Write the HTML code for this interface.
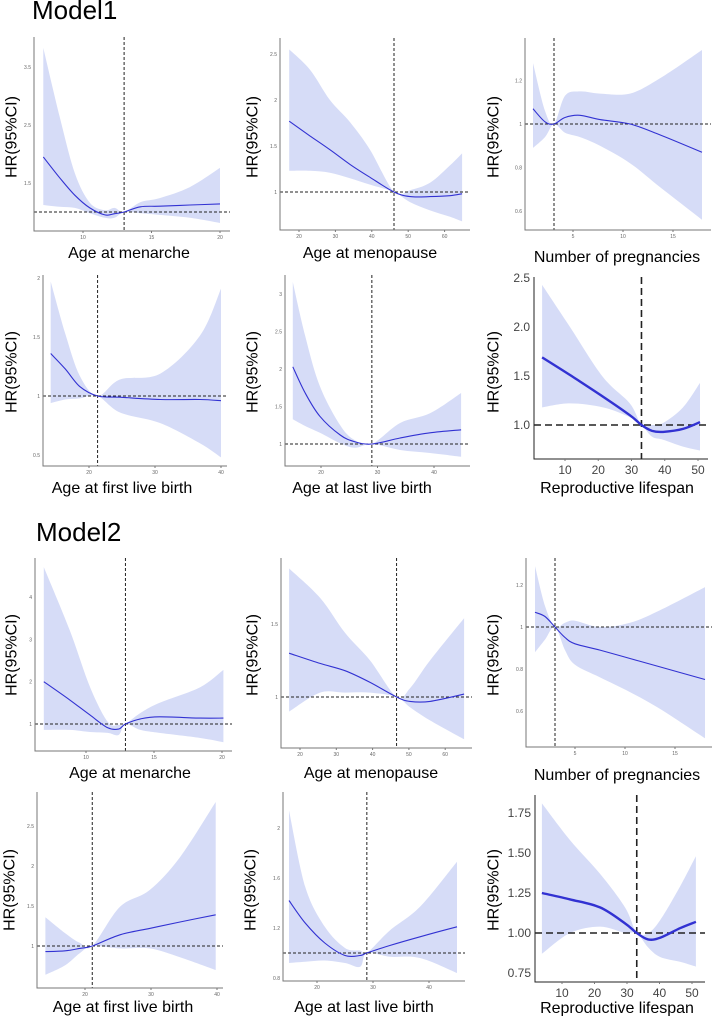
<!DOCTYPE html>
<html><head><meta charset="utf-8">
<style>
html,body{margin:0;padding:0;background:#fff;}
body{width:712px;height:1016px;overflow:hidden;position:relative;font-family:"Liberation Sans",sans-serif;}
svg{position:absolute;left:0;top:0;}
</style></head>
<body>
<svg id="fig" width="712" height="1016" viewBox="0 0 712 1016" xmlns="http://www.w3.org/2000/svg">
<text x="32" y="19" font-size="26" font-family="Liberation Sans, sans-serif" fill="#000">Model1</text>
<text x="36" y="541" font-size="26" font-family="Liberation Sans, sans-serif" fill="#000">Model2</text>
</svg>
<script>
// ---- data arrays (x, HR, lower CI, upper CI) ----
const aX=[7.1,8.3,9.4,10.5,11.6,12.3,13.0,14.2,15.6,17.8,20.0];
const aY=[1.95,1.59,1.29,1.07,0.95,0.97,1.0,1.09,1.10,1.12,1.14];
const aLo=[1.12,1.09,1.07,0.98,0.90,0.90,1.0,0.98,0.95,0.90,0.81];
const aHi=[3.83,2.64,1.67,1.16,1.03,1.07,1.0,1.17,1.24,1.43,1.76];

const bX=[17.3,23.0,28.5,34.0,39.5,46.1,50.5,56.0,61.5,64.8];
const bY=[1.77,1.61,1.46,1.30,1.16,1.0,0.95,0.95,0.96,0.98];
const bLo=[1.23,1.23,1.21,1.15,1.08,1.0,0.89,0.80,0.73,0.68];
const bHi=[2.55,2.33,2.0,1.76,1.46,1.0,1.02,1.10,1.29,1.42];

const cX=[1.0,2.2,3.1,4.2,5.7,7.7,10.7,13.7,17.9];
const cY=[1.07,1.01,1.0,1.03,1.04,1.02,1.0,0.95,0.87];
const cLo=[0.89,0.94,1.0,0.96,0.94,0.90,0.82,0.71,0.56];
const cHi=[1.28,1.06,1.0,1.13,1.15,1.14,1.14,1.21,1.34];

const dX=[14.2,16.4,18.6,21.3,24.7,30.8,36.8,40.0];
const dY=[1.36,1.23,1.08,1.0,0.99,0.97,0.97,0.96];
const dLo=[0.94,0.97,0.98,1.0,0.86,0.77,0.60,0.48];
const dHi=[1.97,1.53,1.17,1.0,1.14,1.19,1.51,1.91];

const eX=[15.0,17.2,19.8,23.4,26.0,29.0,34.0,39.3,44.8];
const eY=[2.03,1.68,1.37,1.12,1.03,1.0,1.08,1.15,1.19];
const eLo=[1.33,1.24,1.15,1.01,0.95,1.0,0.92,0.88,0.83];
const eHi=[3.16,2.44,1.77,1.25,1.05,1.0,1.28,1.41,1.68];

const fX=[3.1,11.5,21.4,29.5,33.0,36.2,39.5,45.5,50.6];
const fY=[1.69,1.51,1.29,1.10,1.0,0.94,0.93,0.96,1.03];
const fLo=[1.18,1.22,1.18,1.08,1.0,0.88,0.85,0.78,0.74];
const fHi=[2.43,2.0,1.49,1.22,1.0,1.0,1.02,1.18,1.43];

const gX=[6.9,8.8,10.3,11.6,12.4,12.9,14.0,15.4,18.4,20.1];
const gY=[2.0,1.57,1.21,0.91,0.88,1.0,1.12,1.17,1.14,1.14];
const gLo=[0.86,0.86,0.81,0.79,0.74,1.0,0.86,0.79,0.67,0.57];
const gHi=[4.71,3.22,1.87,1.05,0.98,1.0,1.26,1.50,1.87,2.28];

const hX=[17.0,25.5,32.4,39.3,46.6,50.3,55.8,65.2];
const hY=[1.30,1.23,1.18,1.10,1.0,0.97,0.97,1.02];
const hLo=[0.90,1.03,1.03,1.03,1.0,0.93,0.84,0.71];
const hHi=[1.88,1.68,1.44,1.25,1.0,1.06,1.25,1.54];

const iX=[1.0,2.0,3.0,4.0,5.0,7.5,10.5,13.5,18.0];
const iY=[1.07,1.05,1.0,0.95,0.92,0.89,0.85,0.81,0.75];
const iLo=[0.88,0.94,1.0,0.89,0.82,0.76,0.69,0.61,0.47];
const iHi=[1.29,1.10,1.0,1.02,1.03,1.0,1.02,1.08,1.19];

const jX=[14.0,17.0,19.2,21.1,25.3,29.8,34.4,39.8];
const jY=[0.93,0.94,0.97,1.0,1.14,1.22,1.30,1.39];
const jLo=[0.64,0.76,0.91,1.0,0.97,0.97,0.86,0.70];
const jHi=[1.36,1.16,1.04,1.0,1.49,1.70,2.11,2.80];

const kX=[15.0,17.9,21.4,25.0,27.7,28.9,33.0,38.4,45.0];
const kY=[1.42,1.24,1.08,0.98,0.98,1.0,1.06,1.13,1.21];
const kLo=[0.92,0.93,0.94,0.92,0.89,1.0,0.97,0.96,0.84];
const kHi=[2.14,1.53,1.21,1.04,1.02,1.0,1.18,1.37,1.73];

const lX=[3.8,12.5,21.7,29.4,33.0,36.5,40.2,46.3,51.2];
const lY=[1.25,1.21,1.16,1.06,1.0,0.96,0.97,1.03,1.07];
const lLo=[0.87,1.0,1.04,1.0,1.0,0.91,0.85,0.82,0.79];
const lHi=[1.81,1.58,1.37,1.16,1.0,1.0,1.08,1.29,1.48];

// tick label arrays
const ticksA_x=[10,15,20], ticksA_y=[1.5,2.5,3.5];
const ticksB_x=[20,30,40,50,60], ticksB_y=[1.0,1.5,2.0,2.5];
const ticksC_x=[5,10,15], ticksC_y=[0.6,0.8,1.0,1.2];
const ticksD_x=[20,30,40], ticksD_y=[0.5,1.0,1.5,2.0];
const ticksE_x=[20,30,40], ticksE_y=[1.0,1.5,2.0,2.5,3.0];
const ticksF_x=[10,20,30,40,50], ticksF_y=[1.0,1.5,2.0,2.5];
const ticksG_x=[10,15,20], ticksG_y=[1,2,3,4];
const ticksH_x=[20,30,40,50,60], ticksH_y=[1.0,1.5];
const ticksI_x=[5,10,15], ticksI_y=[0.6,0.8,1.0,1.2];
const ticksJ_x=[20,30,40], ticksJ_y=[1.0,1.5,2.0,2.5];
const ticksK_x=[20,30,40], ticksK_y=[0.8,1.2,1.6,2.0];
const ticksL_x=[10,20,30,40,50], ticksL_y=[0.75,1.0,1.25,1.5,1.75];

const NS="http://www.w3.org/2000/svg";
const svg=document.getElementById('fig');
function mk(tag,parent){const e=document.createElementNS(NS,tag);parent.appendChild(e);return e;}
function spline(p){
  let d="M"+p[0][0].toFixed(1)+","+p[0][1].toFixed(1);
  for(let i=0;i<p.length-1;i++){
    const p0=p[i-1]||p[i],p1=p[i],p2=p[i+1],p3=p[i+2]||p[i+1];
    const c1=[p1[0]+(p2[0]-p0[0])/6,p1[1]+(p2[1]-p0[1])/6];
    const c2=[p2[0]-(p3[0]-p1[0])/6,p2[1]-(p3[1]-p1[1])/6];
    d+=" C"+c1[0].toFixed(1)+","+c1[1].toFixed(1)+" "+c2[0].toFixed(1)+","+c2[1].toFixed(1)+" "+p2[0].toFixed(1)+","+p2[1].toFixed(1);
  }
  return d;
}
function splineCont(p){return spline(p).replace(/^M/,"L");}

function panel(c){
  const g=mk('g',svg);
  
  
  const sx=v=>c.xr[1]+(v-c.xr[0])*c.xr[2];
  const sy=v=>c.yr[1]-(v-c.yr[0])*c.yr[2];
  const up=c.X.map((x,i)=>[sx(x),sy(c.Hi[i])]);
  const lo=c.X.map((x,i)=>[sx(x),sy(c.Lo[i])]).reverse();
  const band=mk('path',g);
  band.setAttribute('d',spline(up)+" "+splineCont(lo)+" Z");
  band.setAttribute('fill','#d6dcf7');
  
  
  const hl=mk('line',g);
  hl.setAttribute('x1',c.box[0]);hl.setAttribute('x2',c.box[2]);
  hl.setAttribute('y1',sy(1));hl.setAttribute('y2',sy(1));
  hl.setAttribute('stroke','#222');hl.setAttribute('stroke-width',c.big?1.6:1);
  hl.setAttribute('stroke-dasharray',c.big?'7,4':'3,2');
  
  
  const vl=mk('line',g);
  vl.setAttribute('x1',sx(c.vx));vl.setAttribute('x2',sx(c.vx));
  vl.setAttribute('y1',c.box[1]);vl.setAttribute('y2',c.box[3]);
  vl.setAttribute('stroke','#222');vl.setAttribute('stroke-width',c.big?1.6:1);
  vl.setAttribute('stroke-dasharray',c.big?'7,4':'3,2');
  
  
  const ln=mk('path',g);
  ln.setAttribute('d',spline(c.X.map((x,i)=>[sx(x),sy(c.Y[i])])));
  ln.setAttribute('fill','none');ln.setAttribute('stroke','#3232d2');
  ln.setAttribute('stroke-width',c.big?2.4:1.1);
  
  
  const ax=mk('path',g);
  ax.setAttribute('d',`M${c.box[0]},${c.box[1]} L${c.box[0]},${c.box[3]} L${c.box[2]},${c.box[3]}`);
  ax.setAttribute('fill','none');ax.setAttribute('stroke',c.big?'#222':'#777');ax.setAttribute('stroke-width',1);
  
  
  const fs=c.big?12:5, col=c.big?'#444':'#666';
  c.tx.forEach(v=>{
    const t=mk('text',g);
    t.setAttribute('x',sx(v));t.setAttribute('y',c.box[3]+(c.big?15:8));
    t.setAttribute('text-anchor','middle');t.setAttribute('font-size',fs);t.setAttribute('fill',col);
    
    
    t.textContent=v;
    const tk=mk('line',g);
    tk.setAttribute('x1',sx(v));tk.setAttribute('x2',sx(v));tk.setAttribute('y1',c.box[3]);tk.setAttribute('y2',c.box[3]+2);
    tk.setAttribute('stroke','#777');
  });
  c.ty.forEach(v=>{
    const t=mk('text',g);
    t.setAttribute('x',c.box[0]-(c.big?4:3));t.setAttribute('y',sy(v)+(c.big?4:2));
    t.setAttribute('text-anchor','end');t.setAttribute('font-size',fs);t.setAttribute('fill',col);
    
    
    t.textContent=c.big?(c.dec===2?v.toFixed(2):v.toFixed(1)):v;
  });
  const yl=mk('text',g);
  yl.setAttribute('transform',`translate(${c.ylx},${c.yly}) rotate(-90)`);
  yl.setAttribute('text-anchor','middle');yl.setAttribute('dominant-baseline','central');
  yl.setAttribute('font-size',16);yl.setAttribute('fill','#000');
  
  
  yl.textContent='HR(95%CI)';
  const xl=mk('text',g);
  xl.setAttribute('x',c.xlx);xl.setAttribute('y',c.xly+6);
  xl.setAttribute('text-anchor','middle');xl.setAttribute('font-size',16);xl.setAttribute('fill','#000');
  
  
  xl.textContent=c.xlab;
}

panel({name:'m1-menarche-panel',box:[34,37,230,231],xr:[10,83,13.7],yr:[1,212,58],X:aX,Y:aY,Lo:aLo,Hi:aHi,tx:ticksA_x,ty:ticksA_y,vx:13.0,ylx:12,yly:137,xlx:129,xly:252,xlab:'Age at menarche'});
panel({name:'m1-menopause-panel',box:[280,38,470,230],xr:[20,299,3.64],yr:[1,192,92],X:bX,Y:bY,Lo:bLo,Hi:bHi,tx:ticksB_x,ty:ticksB_y,vx:46.1,ylx:253,yly:137,xlx:370,xly:252,xlab:'Age at menopause'});
panel({name:'m1-pregnancies-panel',box:[525,38,711,230],xr:[5,573,10],yr:[1,124,217.5],X:cX,Y:cY,Lo:cLo,Hi:cHi,tx:ticksC_x,ty:ticksC_y,vx:3.1,ylx:494,yly:137,xlx:617,xly:256,xlab:'Number of pregnancies'});
panel({name:'m1-first-birth-panel',box:[43,275,227,466],xr:[20,89,6.6],yr:[1,396,118],X:dX,Y:dY,Lo:dLo,Hi:dHi,tx:ticksD_x,ty:ticksD_y,vx:21.3,ylx:12,yly:372,xlx:122,xly:487,xlab:'Age at first live birth'});
panel({name:'m1-last-birth-panel',box:[285,275,470,466],xr:[20,321,5.65],yr:[1,444,75],X:eX,Y:eY,Lo:eLo,Hi:eHi,tx:ticksE_x,ty:ticksE_y,vx:29,ylx:253,yly:372,xlx:362,xly:487,xlab:'Age at last live birth'});
panel({name:'m1-lifespan-panel',big:true,box:[534,277,708,459],xr:[10,565,3.325],yr:[1,425,98],X:fX,Y:fY,Lo:fLo,Hi:fHi,tx:ticksF_x,ty:ticksF_y,vx:33,ylx:494,yly:372,xlx:617,xly:487,xlab:'Reproductive lifespan'});
panel({name:'m2-menarche-panel',box:[35,558,232,751],xr:[10,86,13.6],yr:[1,724,42.3],X:gX,Y:gY,Lo:gLo,Hi:gHi,tx:ticksG_x,ty:ticksG_y,vx:12.9,ylx:12,yly:655,xlx:130,xly:772,xlab:'Age at menarche'});
panel({name:'m2-menopause-panel',box:[281,558,472,748],xr:[20,300,3.63],yr:[1,697,146],X:hX,Y:hY,Lo:hLo,Hi:hHi,tx:ticksH_x,ty:ticksH_y,vx:46.6,ylx:253,yly:655,xlx:371,xly:772,xlab:'Age at menopause'});
panel({name:'m2-pregnancies-panel',box:[526,558,712,747],xr:[5,575,10],yr:[1,627,210],X:iX,Y:iY,Lo:iLo,Hi:iHi,tx:ticksI_x,ty:ticksI_y,vx:3,ylx:494,yly:655,xlx:617,xly:774,xlab:'Number of pregnancies'});
panel({name:'m2-first-birth-panel',box:[37,792,223,988],xr:[20,85,6.6],yr:[1,946,80],X:jX,Y:jY,Lo:jLo,Hi:jHi,tx:ticksJ_x,ty:ticksJ_y,vx:21.1,ylx:10,yly:890,xlx:123,xly:1006,xlab:'Age at first live birth'});
panel({name:'m2-last-birth-panel',box:[283,792,465,981],xr:[20,317,5.6],yr:[1,953,125],X:kX,Y:kY,Lo:kLo,Hi:kHi,tx:ticksK_x,ty:ticksK_y,vx:28.9,ylx:251,yly:890,xlx:364,xly:1006,xlab:'Age at last live birth'});
panel({name:'m2-lifespan-panel',big:true,dec:2,box:[535,795,705,982],xr:[10,562,3.25],yr:[1,933,160],X:lX,Y:lY,Lo:lLo,Hi:lHi,tx:ticksL_x,ty:ticksL_y,vx:33,ylx:494,yly:890,xlx:617,xly:1007,xlab:'Reproductive lifespan'});
</script>
</body></html>
